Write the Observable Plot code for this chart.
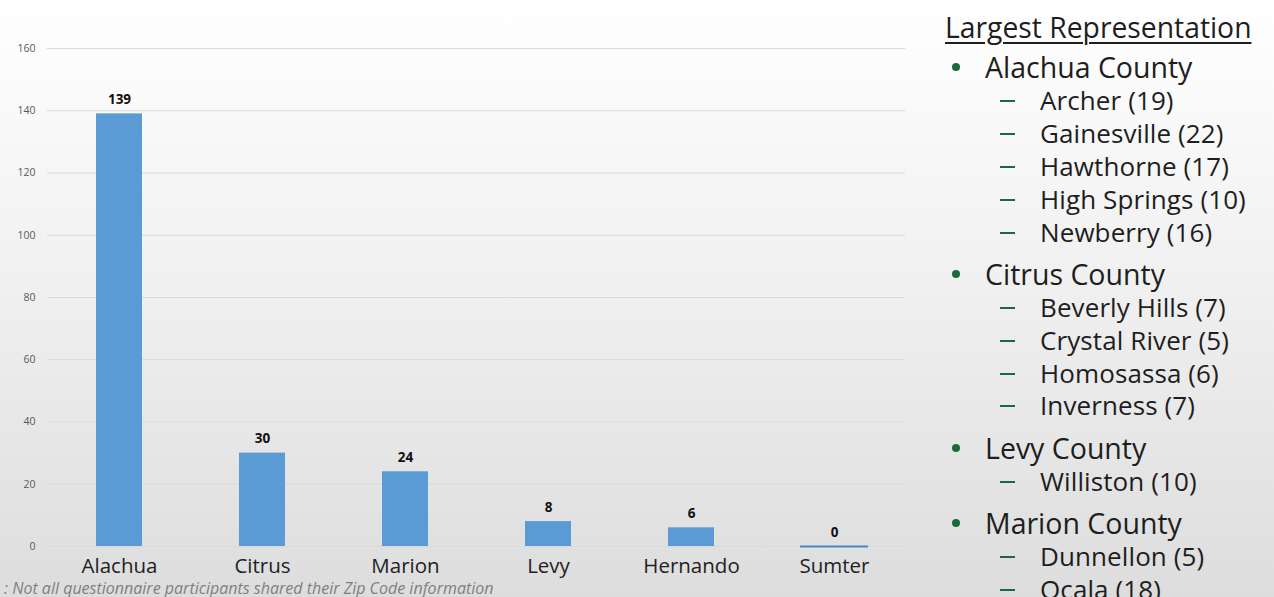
<!DOCTYPE html>
<html>
<head>
<meta charset="utf-8">
<script src="https://cdn.jsdelivr.net/npm/d3@7"></script>
<script src="https://cdn.jsdelivr.net/npm/@observablehq/plot@0.6"></script>
<style>
  html, body { margin: 0; padding: 0; }
  body {
    width: 1274px; height: 597px; overflow: hidden; position: relative;
    background: linear-gradient(to bottom, #ffffff 0%, #f1f1f1 45%, #dddddd 100%);
    font-family: "Open Sans", sans-serif;
  }
  #chart { position: absolute; left: 0; top: 0; }
  #note {
    position: absolute; left: 4px; top: 580px; font-size: 16px; font-style: italic;
    color: #7f7f7f; white-space: nowrap; font-family: "Open Sans", sans-serif; line-height: 17px;
  }
  #side { position: absolute; left: 945px; top: 7px; color: #1e1e1e; font-family: "Open Sans", sans-serif; }
  #side .title { font-size: 28.3px; text-decoration: underline; text-decoration-thickness: 2px; text-underline-offset: 4px; line-height: 40px; letter-spacing: 0; margin-bottom: -2.6px; white-space: nowrap; }
  #side .county { position: relative; font-size: 28.5px; line-height: 34px; padding-left: 40px; margin-top: 8.6px; letter-spacing: 0; white-space: nowrap; }
  #side .title + .county { margin-top: 6px; }
  #side .county::before { content: ""; position: absolute; left: 7px; top: 13px; width: 8px; height: 8px; border-radius: 50%; background: #1b6b3a; }
  #side .town { position: relative; font-size: 26px; line-height: 32.8px; padding-left: 95px; letter-spacing: 0.1px; white-space: nowrap; }
  #side .town::before { content: ""; position: absolute; left: 55px; top: 16px; width: 15px; height: 2px; background: #1b6b3a; }
</style>
</head>
<body>
<div id="chart"></div>
<div id="note"></div>
<div id="side"></div>
<script>
const counties = ["Alachua", "Citrus", "Marion", "Levy", "Hernando", "Sumter"];
const counts = [139, 30, 24, 8, 6, 0];
const yTicks = [0, 20, 40, 60, 80, 100, 120, 140, 160];
const noteText = ": Not all questionnaire participants shared their Zip Code information";
const sideTitle = "Largest Representation";
const sideCounties = ["Alachua County", "Citrus County", "Levy County", "Marion County"];
const sideTowns = [
  ["Archer (19)", "Gainesville (22)", "Hawthorne (17)", "High Springs (10)", "Newberry (16)"],
  ["Beverly Hills (7)", "Crystal River (5)", "Homosassa (6)", "Inverness (7)"],
  ["Williston (10)"],
  ["Dunnellon (5)", "Ocala (18)"]
];

const data = counties.map((c, i) => ({county: c, count: counts[i]}));

const chart = Plot.plot({
  width: 920,
  height: 597,
  marginTop: 48,
  marginBottom: 51,
  marginLeft: 47,
  marginRight: 15,
  style: {background: "transparent", fontFamily: "'Open Sans', sans-serif", overflow: "visible"},
  x: {domain: counties, paddingInner: 0.68, paddingOuter: 0.34, label: null},
  y: {domain: [0, 160], label: null},
  marks: [
    Plot.ruleY(yTicks, {stroke: "#d9d9d9", strokeWidth: 1.2}),
    Plot.axisY({ticks: yTicks, tickSize: 0, tickPadding: 12, fontSize: 10.5, color: "#595959", label: null}),
    Plot.axisX({tickSize: 0, tickPadding: 12, fontSize: 20.5, color: "#222", label: null}),
    Plot.barY(data.filter(d => d.count > 0), {x: "county", y: "count", fill: "#5b9bd5"}),
    Plot.tickY(data.filter(d => d.count === 0), {x: "county", y: "count", stroke: "#4a86c5", strokeWidth: 2, insetLeft: -11, insetRight: -11}),
    Plot.text(data, {x: "county", y: "count", text: d => String(d.count), dy: -10, lineAnchor: "bottom", fontSize: 13.5, fontWeight: "bold", fill: "#111"})
  ]
});
document.getElementById("chart").appendChild(chart);
document.getElementById("note").textContent = noteText;

const side = document.getElementById("side");
const t = document.createElement("div");
t.className = "title"; t.textContent = sideTitle; side.appendChild(t);
sideCounties.forEach((c, i) => {
  const d = document.createElement("div");
  d.className = "county"; d.textContent = c; side.appendChild(d);
  sideTowns[i].forEach(tw => {
    const e = document.createElement("div");
    e.className = "town"; e.textContent = tw; side.appendChild(e);
  });
});
</script>
</body>
</html>
